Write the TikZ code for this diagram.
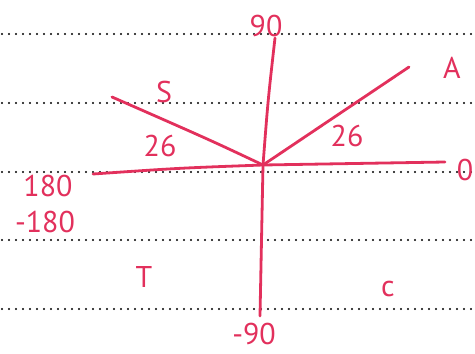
\documentclass[tikz,border=0pt]{standalone}
\usepackage{fontspec}
\setmainfont{PT Sans}
\begin{document}
\begin{tikzpicture}[x=1pt,y=-1pt,
  ink/.style={draw=inkred,line width=2.8pt,line cap=round,line join=round},
  rule/.style={draw=black,line width=2.4pt,line cap=round,dash pattern=on 0pt off 7pt},
  lbl/.style={text=inkred,font=\fontsize{30}{32}\selectfont,inner sep=0pt}]
\definecolor{inkred}{RGB}{226,48,92}
\useasboundingbox (0,0) rectangle (475,354);
% ruled paper
\foreach \yy in {34,103,172,240,309}{
  \draw[rule] (2,\yy) -- (475,\yy);
}
% axes and angle lines
\coordinate (o) at (263,165);
\coordinate (top) at (275,38);
\coordinate (bot) at (260,316);
\coordinate (lft) at (93,174);
\coordinate (rgt) at (445,162);
\coordinate (a) at (409,67);
\coordinate (s) at (112,97);
\draw[ink] (top) .. controls (268,100) .. (o) -- (bot);
\draw[ink] (lft) .. controls (180,168) .. (o) -- (rgt);
\draw[ink] (o) -- (a);
\draw[ink] (s) .. controls (210,140) .. (o);
% labels
\node[lbl] (l90) at (266,26) {90};
\node[lbl] (lm90) at (254,334) {-90};
\node[lbl] (l0) at (465,170) {0};
\node[lbl] (l180) at (48,186) {180};
\node[lbl] (lm180) at (45,222) {-180};
\node[lbl] (lA) at (452,68) {A};
\node[lbl] (lS) at (164,92) {S};
\node[lbl] (lT) at (144,277) {T};
\node[lbl] (lC) at (388,289) {c};
\node[lbl] (l26a) at (160,146) {26};
\node[lbl] (l26b) at (347,136) {26};
\end{tikzpicture}
\end{document}
